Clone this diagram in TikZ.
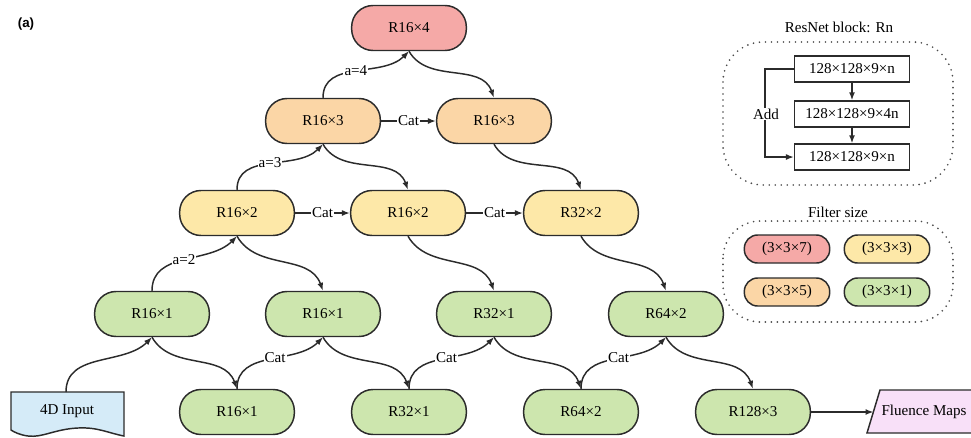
\documentclass[tikz,border=0pt]{standalone}
\usepackage{fontspec}
\setmainfont{Liberation Serif}
\newfontfamily\labfont{Liberation Sans}
\usetikzlibrary{arrows.meta}
\definecolor{cred}{HTML}{F5A9A7}
\definecolor{corange}{HTML}{FBD6A6}
\definecolor{cyellow}{HTML}{FDE8A8}
\definecolor{cgreen}{HTML}{CDE6AE}
\definecolor{cblue}{HTML}{D5EBF8}
\definecolor{cpink}{HTML}{F8E0F8}
\definecolor{cline}{HTML}{2B2B2B}
\begin{document}
\begin{tikzpicture}[x=0.75pt,y=-0.75pt,font=\fontsize{11.3}{13}\selectfont,
  pill/.style={draw=cline,line width=1.1pt,rounded corners=16pt,minimum width=86pt,minimum height=33.75pt,inner sep=0pt},
  lpill/.style={draw=cline,line width=1.1pt,rounded corners=10pt,minimum width=64pt,minimum height=21pt,inner sep=0pt},
  rbox/.style={draw=cline,line width=1.1pt,minimum width=86pt,minimum height=19.5pt,inner sep=0pt},
  edge/.style={draw=cline,line width=1.1pt,-{Latex[length=6pt,width=4.5pt]}},
  downedge/.style={edge,out=-60,in=110},
  upedge/.style={edge,out=90,in=-135},
  lab/.style={fill=white,inner sep=0.8pt},
  dotbox/.style={draw=cline!85,line width=1.4pt,dash pattern=on 0pt off 4.5pt,line cap=round}
]
\useasboundingbox (0,0) rectangle (971,437);

\node[font=\labfont\bfseries\fontsize{10}{12}\selectfont] (tag) at (26,24) {(a)};

% main nodes
\node[pill,fill=cred] (r4) at (409,28) {R16×4};
\node[pill,fill=corange] (r3a) at (323,121) {R16×3};
\node[pill,fill=corange] (r3b) at (494,121) {R16×3};
\node[pill,fill=cyellow] (r2a) at (237,213) {R16×2};
\node[pill,fill=cyellow] (r2b) at (408,213) {R16×2};
\node[pill,fill=cyellow] (r2c) at (581,213) {R32×2};
\node[pill,fill=cgreen] (r1a) at (152,314) {R16×1};
\node[pill,fill=cgreen] (r1b) at (323,314) {R16×1};
\node[pill,fill=cgreen] (r1c) at (494,314) {R32×1};
\node[pill,fill=cgreen] (r1d) at (666,314) {R64×2};
\node[pill,fill=cgreen] (b1) at (237,412) {R16×1};
\node[pill,fill=cgreen] (b2) at (409,412) {R32×1};
\node[pill,fill=cgreen] (b3) at (581,412) {R64×2};
\node[pill,fill=cgreen] (b4) at (753,412) {R128×3};

% 4D input (document shape)
\draw[draw=cline,line width=1.1pt,fill=cblue] (11,392) -- (124,392) -- (124,436)
  .. controls (108,433) and (98,427) .. (78,428)
  .. controls (55,429) and (42,438) .. (28,436)
  .. controls (20,435) and (14,432) .. (11,430) -- cycle;
\node (inp) at (67,411) {4D Input};
\coordinate (inTop) at (66,392);

% Fluence maps (parallelogram)
\draw[draw=cline,line width=1.1pt,fill=cpink] (880,390) -- (1000,390) -- (987,433) -- (867,433) -- cycle;
\node (fm) at (924,412) {Fluence Maps};
\coordinate (fmLeft) at (873.5,412);

% up edges
\draw[upedge] (inTop) to (r1a.south);
\draw[upedge] (b1.north) to node[lab,pos=0.55]{Cat} (r1b.south);
\draw[upedge] (b2.north) to node[lab,pos=0.55]{Cat} (r1c.south);
\draw[upedge] (b3.north) to node[lab,pos=0.55]{Cat} (r1d.south);
\draw[upedge] (r1a.north) to node[lab,pos=0.5]{a=2} (r2a.south);
\draw[upedge] (r2a.north) to node[lab,pos=0.5]{a=3} (r3a.south);
\draw[upedge] (r3a.north) to node[lab,pos=0.5]{a=4} (r4.south);

% down edges
\draw[downedge] (r4.south) to (r3b.north);
\draw[downedge] (r3a.south) to (r2b.north);
\draw[downedge] (r3b.south) to (r2c.north);
\draw[downedge] (r2a.south) to (r1b.north);
\draw[downedge] (r2b.south) to (r1c.north);
\draw[downedge] (r2c.south) to (r1d.north);
\draw[downedge] (r1a.south) to (b1.north);
\draw[downedge] (r1b.south) to (b2.north);
\draw[downedge] (r1c.south) to (b3.north);
\draw[downedge] (r1d.south) to (b4.north);

% horizontal Cat edges
\draw[edge] (r3a.east) -- node[lab]{Cat} (r3b.west);
\draw[edge] (r2a.east) -- node[lab]{Cat} (r2b.west);
\draw[edge] (r2b.east) -- node[lab]{Cat} (r2c.west);

% output
\draw[edge] (b4.east) -- (fmLeft);

% ResNet block legend
\node (rtitle) at (839,27) {ResNet block: Rn};
\draw[dotbox,rounded corners=30pt] (723,42) rectangle (953,185);
\node[rbox] (rb1) at (852,69) {128×128×9×n};
\node[rbox] (rb2) at (852,114) {128×128×9×4n};
\node[rbox] (rb3) at (852,157) {128×128×9×n};
\draw[edge] (rb1.south) -- (rb2.north);
\draw[edge] (rb2.south) -- (rb3.north);
\draw[edge] (rb1.west) -- ++(-29,0) |- (rb3.west);
\node[lab] (add) at (766,114) {Add};

% Filter size legend
\node (ftitle) at (838,212) {Filter size};
\draw[dotbox,rounded corners=28pt] (723,221) rectangle (953,322);
\node[lpill,fill=cred] (l1) at (787,249) {(3×3×7)};
\node[lpill,fill=cyellow] (l2) at (887,249) {(3×3×3)};
\node[lpill,fill=corange] (l3) at (787,292) {(3×3×5)};
\node[lpill,fill=cgreen] (l4) at (887,292) {(3×3×1)};
\end{tikzpicture}
\end{document}
